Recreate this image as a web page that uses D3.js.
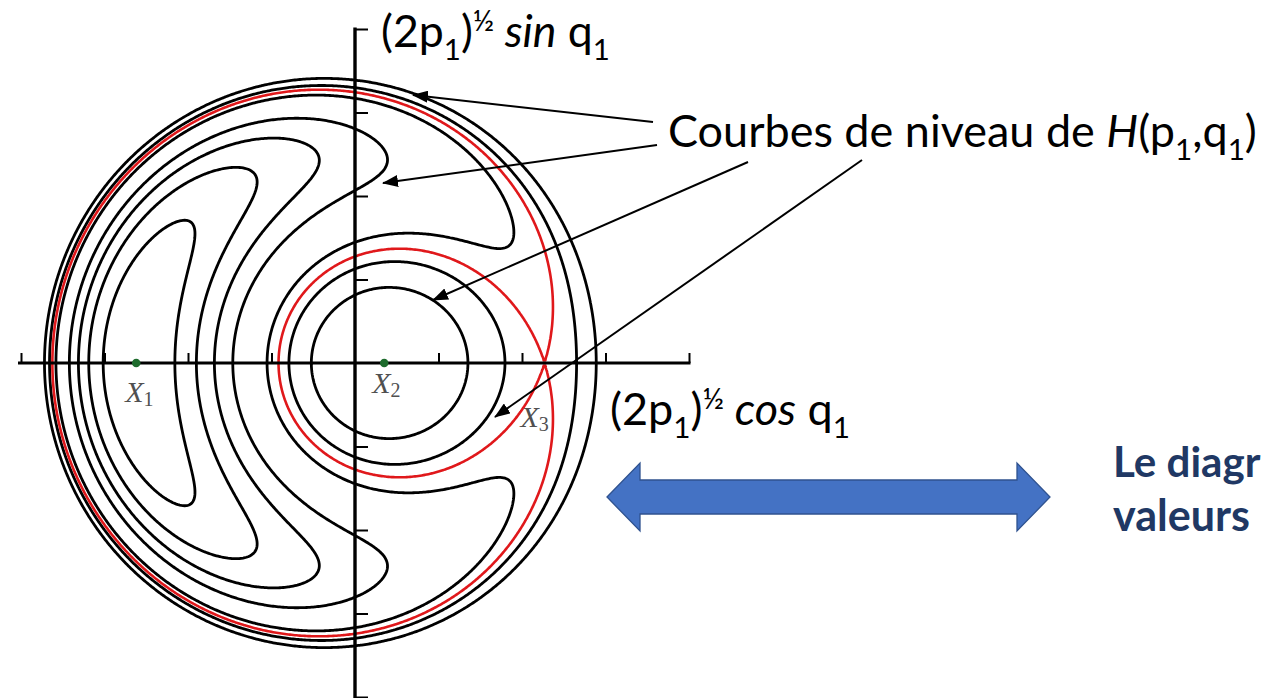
<!DOCTYPE html>
<html>
<head>
<meta charset="utf-8">
<script src="https://cdn.jsdelivr.net/npm/d3@7"></script>
<style>
  html, body { margin: 0; padding: 0; background: #fff; overflow: hidden; }
  svg { display: block; }
</style>
</head>
<body>
<svg id="chart" width="1263" height="698"></svg>
<script>
// ---- data -------------------------------------------------------------
// Fixed points of H on the horizontal axis: X1, X2 elliptic, X3 hyperbolic
const fixedPointNames = ["X", "X", "X"];
const fixedPointIndex = ["1", "2", "3"];
const fixedPointX = [-2.62, 0.35, 2.27];
const fixedPointDot = [true, true, false];

// Levels of H drawn as black curves
const levelValues = [-1.9, -3.45, -5.25, -8.4, -10.1, -11.65, -13.2];

// Axis ticks (both axes)
const axisTicks = [-4, -3, -2, -1, 1, 2, 3, 4];
const axisDomain = [-4, 4];

// ---- model ------------------------------------------------------------
// Second fundamental model of resonance in Cartesian variables
// x = (2p1)^1/2 cos q1, y = (2p1)^1/2 sin q1 :
//   H = s^2/4 + a s/2 + c x,  s = x^2 + y^2
// whose fixed points on y = 0 are the roots of x^3 + a x + c.
const [r1, r2, r3] = fixedPointX;
const a = r1 * r2 + r1 * r3 + r2 * r3;
const c = -r1 * r2 * r3;
const H = (x, y) => { const s = x * x + y * y; return s * s / 4 + a * s / 2 + c * x; };
const separatrixLevel = H(fixedPointX[2], 0);

// ---- layout -----------------------------------------------------------
const svg = d3.select("#chart");
const W = 1263, Hh = 698;
svg.append("rect").attr("width", W).attr("height", Hh).attr("fill", "#fff");

const x = d3.scaleLinear().domain(axisDomain).range([21, 689]);
const y = d3.scaleLinear().domain(axisDomain).range([697, 29]);

// ---- level curves -----------------------------------------------------
const step = 0.02, g0 = -4.4;
const n = Math.round(8.8 / step) + 1;
const grid = new Float64Array(n * n);
for (let j = 0; j < n; j++) {
  for (let i = 0; i < n; i++) grid[j * n + i] = -H(g0 + i * step, g0 + j * step);
}
const toScreen = d3.geoTransform({
  point(gx, gy) { this.stream.point(x(g0 + (gx - 0.5) * step), y(g0 + (gy - 0.5) * step)); }
});
const path = d3.geoPath(toScreen);
const contourGen = d3.contours().size([n, n]);

const curves = svg.append("g").attr("fill", "none")
  .attr("stroke-linejoin", "round").attr("stroke-linecap", "round");

curves.selectAll("path.level")
  .data(levelValues.map(v => contourGen.contour(grid, -v)))
  .join("path")
  .attr("class", "level")
  .attr("d", path)
  .attr("stroke", "#000")
  .attr("stroke-width", 2.8);

curves.append("path")
  .datum(contourGen.contour(grid, -separatrixLevel))
  .attr("d", path)
  .attr("stroke", "#e0181b")
  .attr("stroke-width", 2.6);

// ---- axes -------------------------------------------------------------
const axes = svg.append("g");
axes.append("line")
  .attr("x1", x(axisDomain[0]) - 3).attr("x2", x(axisDomain[1]) + 1.5)
  .attr("y1", y(0)).attr("y2", y(0))
  .attr("stroke", "#000").attr("stroke-width", 3.2);
axes.append("line")
  .attr("x1", x(0)).attr("x2", x(0))
  .attr("y1", y(axisDomain[1]) - 1.5).attr("y2", Hh + 5)
  .attr("stroke", "#000").attr("stroke-width", 3.4);

const xAxis = d3.axisTop(x).tickValues(axisTicks).tickSize(10).tickFormat("");
const yAxis = d3.axisRight(y).tickValues(axisTicks).tickSize(13).tickFormat("");
axes.append("g").attr("transform", `translate(0,${y(0)})`).call(xAxis)
  .call(g => g.select(".domain").remove())
  .call(g => g.selectAll(".tick line").attr("stroke", "#000").attr("stroke-width", 2));
axes.append("g").attr("transform", `translate(${x(0)},0)`).call(yAxis)
  .call(g => g.select(".domain").remove())
  .call(g => g.selectAll(".tick line").attr("stroke", "#000").attr("stroke-width", 2));

// ---- fixed points -----------------------------------------------------
svg.append("g").selectAll("circle")
  .data(fixedPointX.filter((d, i) => fixedPointDot[i]))
  .join("circle")
  .attr("cx", d => x(d)).attr("cy", y(0)).attr("r", 4.3)
  .attr("fill", "#1d6b2c");

const labelOffsets = [[-11, 39], [-12, 30], [-24, 64]];
const fpLabels = svg.append("g")
  .attr("font-family", "'Liberation Serif', 'DejaVu Serif', serif")
  .attr("font-style", "italic").attr("fill", "#505050");
fixedPointX.forEach((v, i) => {
  const t = fpLabels.append("text")
    .attr("x", x(v) + labelOffsets[i][0]).attr("y", y(0) + labelOffsets[i][1])
    .attr("font-size", 30);
  t.append("tspan").text(fixedPointNames[i]);
  t.append("tspan").attr("font-style", "normal").attr("font-size", 20).attr("dy", 4).attr("dx", 0)
    .text(fixedPointIndex[i]);
});

// ---- rich text helper ---------------------------------------------------
const FONT = "Lato, 'Open Sans', 'Noto Sans', sans-serif";
function rich(parent, px, py, size, parts, width) {
  const build = s => {
    const t = parent.append("text").attr("x", px).attr("y", py)
      .attr("font-family", FONT).attr("font-size", s);
    let shift = 0;
    parts.forEach(p => {
      const sp = t.append("tspan").text(p.t);
      let target = 0, fs = s;
      if (p.sub) { target = 0.3 * s; fs = 0.66 * s; }
      if (p.sup) { target = -0.36 * s; fs = 0.66 * s; }
      sp.attr("font-size", fs).attr("dy", target - shift);
      if (p.it) sp.attr("font-style", "italic");
      if (p.b) sp.attr("font-weight", "bold");
      shift = target;
    });
    return t;
  };
  let t = build(size);
  if (width) {
    const w = t.node().getBBox().width;
    t.remove();
    t = build(size * width / w);
  }
  return t;
}

const labels = svg.append("g").attr("fill", "#000");
rich(labels, 381, 47, 36, [
  { t: "(2p" }, { t: "1", sub: true }, { t: ")" }, { t: "½", sup: true },
  { t: " sin", it: true }, { t: " q" }, { t: "1", sub: true }
], 229);
rich(labels, 610, 425, 36, [
  { t: "(2p" }, { t: "1", sub: true }, { t: ")" }, { t: "½", sup: true },
  { t: " cos", it: true }, { t: " q" }, { t: "1", sub: true }
], 240);
rich(labels, 668, 147, 44, [
  { t: "Courbes de niveau de " }, { t: "H", it: true }, { t: "(p" }, { t: "1", sub: true },
  { t: ",q" }, { t: "1", sub: true }, { t: ")" }
], 589);

// ---- annotation arrows ------------------------------------------------------
const defs = svg.append("defs");
defs.append("marker").attr("id", "head")
  .attr("viewBox", "0 0 16 12").attr("refX", 15).attr("refY", 6)
  .attr("markerWidth", 16).attr("markerHeight", 12)
  .attr("markerUnits", "userSpaceOnUse").attr("orient", "auto")
  .append("path").attr("d", "M0,0 L16,6 L0,12 Z").attr("fill", "#000");

const pointers = [
  [[653, 122], [413, 95]],
  [[657, 145], [383, 183]],
  [[748, 162], [433, 300]],
  [[862, 160], [495, 417]]
];
svg.append("g").selectAll("line").data(pointers).join("line")
  .attr("x1", d => d[0][0]).attr("y1", d => d[0][1])
  .attr("x2", d => d[1][0]).attr("y2", d => d[1][1])
  .attr("stroke", "#000").attr("stroke-width", 2)
  .attr("marker-end", "url(#head)");

// ---- blue double arrow ------------------------------------------------------
const ax0 = 607, ax1 = 1050, ay = 497, headH = 34, shaftH = 17, headL = 33;
svg.append("path")
  .attr("d", `M${ax0},${ay} L${ax0 + headL},${ay - headH} L${ax0 + headL},${ay - shaftH}
    L${ax1 - headL},${ay - shaftH} L${ax1 - headL},${ay - headH} L${ax1},${ay}
    L${ax1 - headL},${ay + headH} L${ax1 - headL},${ay + shaftH} L${ax0 + headL},${ay + shaftH}
    L${ax0 + headL},${ay + headH} Z`)
  .attr("fill", "#4472c4").attr("stroke", "#2f528f").attr("stroke-width", 1.3);

// ---- side note ----------------------------------------------------------
const note = svg.append("g").attr("fill", "#203864");
rich(note, 1113, 477, 44, [{ t: "Le diagr", b: true }], 148);
rich(note, 1113, 531, 44, [{ t: "valeurs", b: true }], 137);
</script>
</body>
</html>
